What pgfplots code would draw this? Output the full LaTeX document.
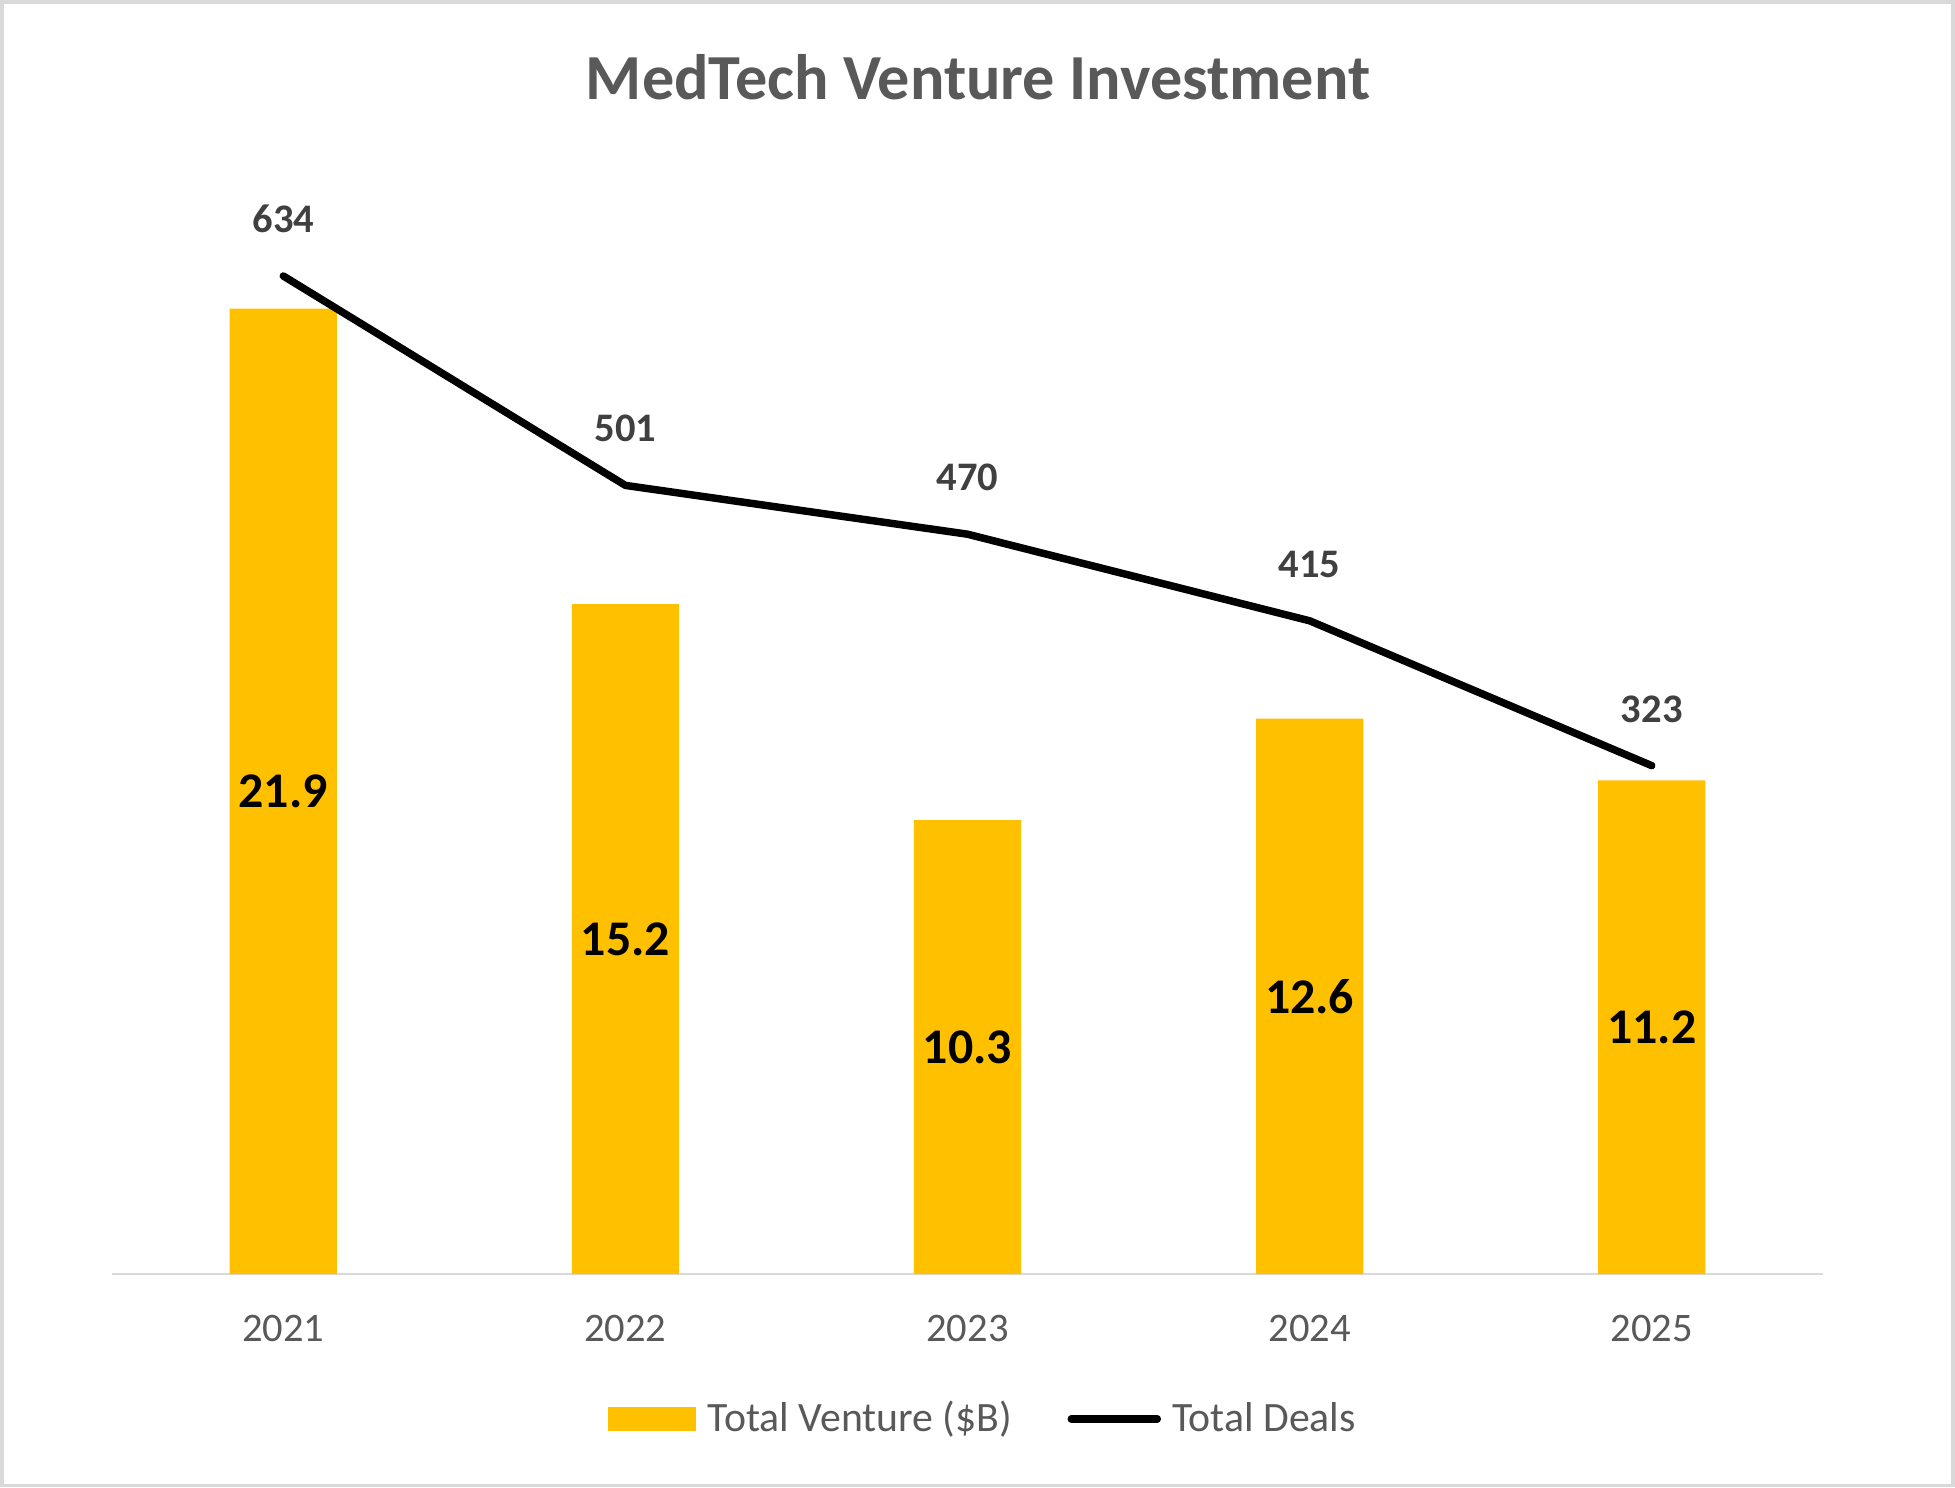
\documentclass[border=0pt]{standalone}
\usepackage{pgfplots}
\pgfplotsset{compat=1.18}
\usepackage{pgfplotstable}
\usepackage{fontspec}
\setmainfont{Carlito}

\definecolor{bary}{HTML}{FFC000}
\definecolor{titlegray}{HTML}{595959}
\definecolor{labgray}{HTML}{404040}
\definecolor{axgray}{HTML}{D9D9D9}

\pgfplotstableread{
x v
0 21.9
1 15.2
2 10.3
3 12.6
4 11.2
}\venture
\pgfplotstableread{
x d
0 634
1 501
2 470
3 415
4 323
}\deals

\begin{document}
\begin{tikzpicture}
\useasboundingbox (0,0) rectangle (627.2pt,477.2pt);
\draw[axgray, line width=1.2pt] (0.6pt,0.6pt) rectangle (626.6pt,476.6pt);
\node[font=\fontsize{20.6}{24}\selectfont\bfseries, text=titlegray] at (313.8pt,452.4pt) {MedTech Venture Investment};

% bars
\begin{axis}[
  at={(36pt,68.4pt)}, anchor=south west,
  scale only axis, width=548.8pt, height=353.6pt,
  xmin=-0.5, xmax=4.5, ymin=0, ymax=25,
  axis y line=none, axis x line*=bottom,
  x axis line style={draw=axgray, line width=0.8pt, -},
  xtick={0,1,2,3,4}, xticklabels={2021,2022,2023,2024,2025},
  ytick=\empty, major tick length=0pt,
  xticklabel style={font=\fontsize{13}{15}\selectfont, text=titlegray, anchor=north, inner sep=0pt, yshift=-13pt},
  clip=false,
]
\addplot[ybar, bar width=34.4pt, fill=bary, draw=none] table[x=x, y=v] {\venture};
\addplot[draw=none, mark=none, nodes near coords={\pgfplotspointmeta}, point meta=explicit symbolic,
  every node near coord/.append style={anchor=center, inner sep=0pt, font=\fontsize{16}{19}\selectfont\bfseries, text=black}]
  table[x=x, y expr=\thisrow{v}/2, meta=v] {\venture};
\end{axis}

% line
\begin{axis}[
  at={(36pt,68.4pt)}, anchor=south west,
  scale only axis, width=548.8pt, height=353.6pt,
  xmin=-0.5, xmax=4.5, ymin=0, ymax=700,
  hide axis, clip=false,
  legend columns=2,
  legend style={draw=none, fill=none, at={(axis description cs:0.510,-0.1312)}, anchor=center,
    font=\fontsize{13.4}{15}\selectfont, text=titlegray, nodes={inner sep=1.8pt},
    /tikz/every odd column/.append style={column sep=1.8pt},
    /tikz/every even column/.append style={column sep=16pt}},
]
\addlegendimage{legend image code/.code={\fill[bary] (0pt,-3.6pt) rectangle (28pt,3.6pt);}}
\addlegendentry{Total Venture (\$B)}
\addplot[black, line width=2.4pt, line cap=round, line join=round, mark=none,
  nodes near coords={\pgfplotspointmeta}, point meta=explicit symbolic,
  every node near coord/.append style={anchor=south, inner sep=0pt, yshift=12.7pt, font=\fontsize{13}{15}\selectfont\bfseries, text=labgray},
  legend image code/.code={\draw[black, line width=2.4pt, line cap=round] (1.2pt,0pt) -- (28.8pt,0pt);}]
  table[x=x, y=d, meta=d] {\deals};
\addlegendentry{Total Deals}
\end{axis}
\end{tikzpicture}
\end{document}
